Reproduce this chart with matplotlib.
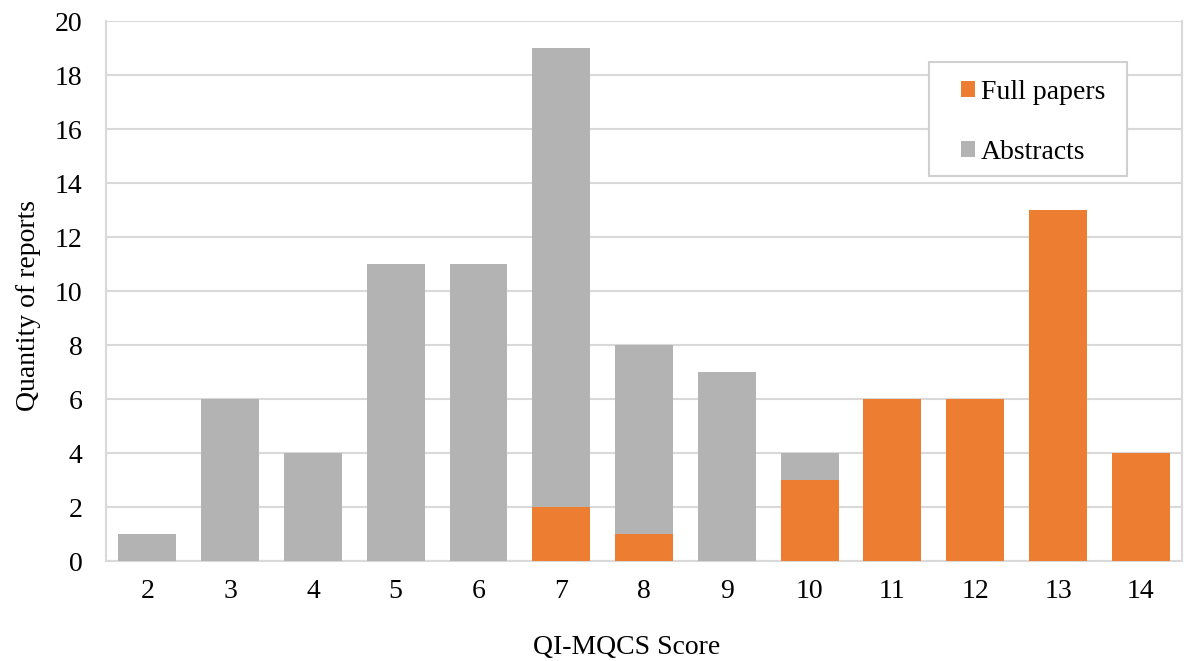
import matplotlib
matplotlib.use("Agg")
import matplotlib.pyplot as plt
from matplotlib.patches import Rectangle
import numpy as np

scores = ["2", "3", "4", "5", "6", "7", "8", "9", "10", "11", "12", "13", "14"]
full_papers = [0, 0, 0, 0, 0, 2, 1, 0, 3, 6, 6, 13, 4]
abstracts = [1, 6, 4, 11, 11, 17, 7, 7, 1, 0, 0, 0, 0]

plt.rcParams['font.family'] = ['Liberation Serif', 'DejaVu Serif']

fig = plt.figure(figsize=(11.84, 6.61), dpi=100)
ax = fig.add_axes([0.0895, 0.151, 0.909, 0.817])

x = np.arange(len(scores))
orange = "#ED7D31"
grey = "#B3B3B3"
ax.bar(x, full_papers, width=0.7, color=orange, label="Full papers", zorder=3)
ax.bar(x, abstracts, width=0.7, bottom=full_papers, color=grey, label="Abstracts", zorder=3)

ax.set_xlim(-0.5, len(scores) - 0.5)
ax.set_ylim(0, 20)
ax.set_yticks(range(0, 21, 2))
ax.set_xticks(x)
ax.set_xticklabels(scores)
ax.tick_params(axis='both', length=0, labelsize=20, colors='black')
ax.tick_params(axis='x', pad=13)
ax.tick_params(axis='y', pad=17)
ax.grid(axis='y', color='#D9D9D9', linewidth=1.5, zorder=0)

for side in ['left', 'right', 'bottom']:
    ax.spines[side].set_color('#D9D9D9')
    ax.spines[side].set_linewidth(1.5)
ax.spines['top'].set_visible(False)

ax.set_xlabel("QI-MQCS Score", fontsize=20, labelpad=22, x=0.484)
ax.set_ylabel("Quantity of reports", fontsize=20, labelpad=10, y=0.474)

# legend frame drawn separately so horizontal and vertical padding can differ
frame = Rectangle((0.765, 0.713), 0.949 - 0.765, 0.924 - 0.713, transform=ax.transAxes,
                  facecolor='white', edgecolor='#D0D0D0', linewidth=1.5, zorder=4.5)
ax.add_patch(frame)

leg = ax.legend(loc='upper right', bbox_to_anchor=(0.9285, 0.891), fontsize=20,
                frameon=False, handlelength=0.5, handleheight=0.5, handletextpad=0.2,
                labelspacing=1.26, borderpad=0, borderaxespad=0)
leg.set_zorder(5)

fig.savefig("out.png", dpi=100)
